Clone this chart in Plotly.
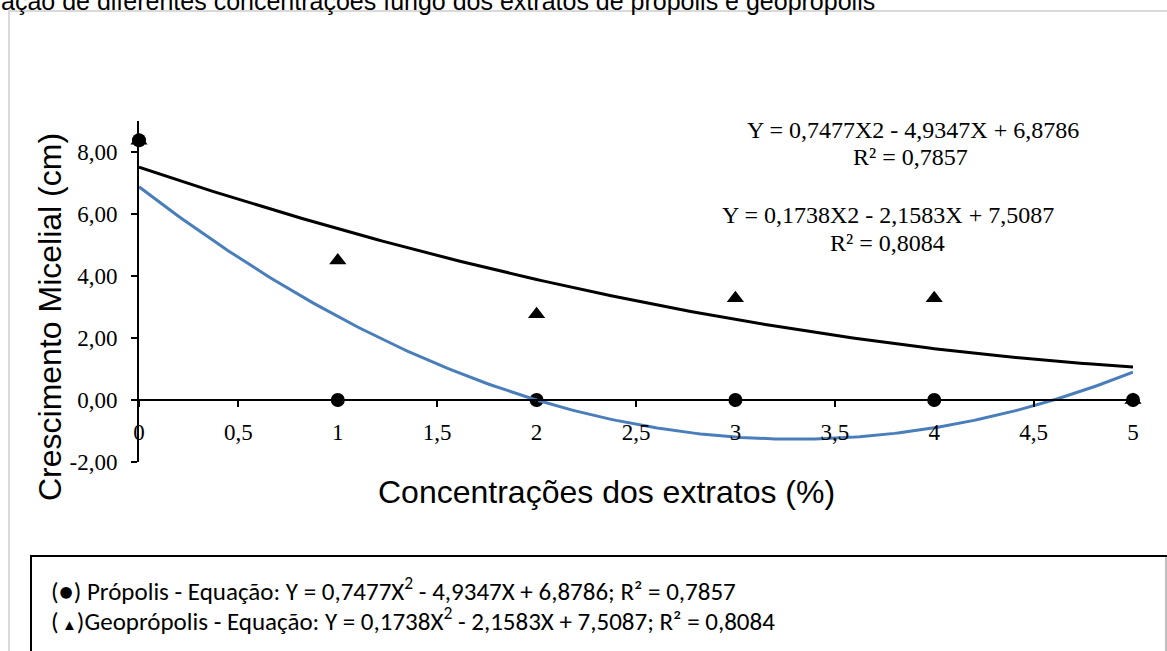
import numpy as np
import plotly.graph_objects as go

# ---------------- data ----------------
concentracoes = [0, 1, 2, 3, 4, 5]
propolis = [8.38, 0.0, 0.0, 0.0, 0.0, 0.0]
geopropolis = [8.36, 4.50, 2.77, 3.28, 3.28, 0.0]

# trendline coefficients (a, b, c) for y = a*x^2 + b*x + c, as printed on the chart
coef_propolis = [0.7477, -4.9347, 6.8786]
coef_geopropolis = [0.1738, -2.1583, 7.5087]

x_tickvals = [0, 0.5, 1, 1.5, 2, 2.5, 3, 3.5, 4, 4.5, 5]
x_ticklabels = ["0", "0,5", "1", "1,5", "2", "2,5", "3", "3,5", "4", "4,5", "5"]
y_tickvals = [-2, 0, 2, 4, 6, 8]
y_ticklabels = ["-2,00", "0,00", "2,00", "4,00", "6,00", "8,00"]

eq_propolis = "Y = 0,7477X2 - 4,9347X + 6,8786"
r2_propolis = "R² = 0,7857"
eq_geo = "Y = 0,1738X2 - 2,1583X + 7,5087"
r2_geo = "R² = 0,8084"

legend_line1 = "(●) Própolis - Equação: Y = 0,7477X<sup>2</sup> - 4,9347X + 6,8786; R² = 0,7857"
legend_line2 = "(<span style='font-size:15px'> ▲</span>)Geoprópolis - Equação: Y = 0,1738X<sup>2</sup> - 2,1583X + 7,5087; R² = 0,8084"
titulo = "ação de diferentes concentrações fungo dos extratos de própolis e geoprópolis"
x_title = "Concentrações dos extratos (%)"
y_title = "Crescimento Micelial (cm)"

# ---------------- layout geometry ----------------
FW, FH = 1167, 651
L, R, T, B = 139, 1133, 121, 462
W, H = R - L, B - T
YMIN, YMAX = -2, 9


def px(xp):
    return (xp - L) / W


def py(yp):
    return (B - yp) / H


xs = np.linspace(concentracoes[0], concentracoes[-1], 201)
fit_prop = np.polyval(coef_propolis, xs)
fit_geo = np.polyval(coef_geopropolis, xs)

SERIF = "Times New Roman, Liberation Serif, serif"
SANS = "Arial, Liberation Sans, sans-serif"
CAL = "Calibri, Carlito, Lato, sans-serif"

fig = go.Figure()

fig.add_trace(go.Scatter(
    x=concentracoes, y=geopropolis, mode="markers",
    marker=dict(symbol="triangle-up", size=15, color="black"),
    cliponaxis=False, showlegend=False))
fig.add_trace(go.Scatter(
    x=concentracoes, y=propolis, mode="markers",
    marker=dict(symbol="circle", size=14, color="black"),
    cliponaxis=False, showlegend=False))
fig.add_trace(go.Scatter(
    x=xs, y=fit_geo, mode="lines",
    line=dict(color="black", width=3), cliponaxis=False, showlegend=False))
fig.add_trace(go.Scatter(
    x=xs, y=fit_prop, mode="lines",
    line=dict(color="#4A7EBB", width=3), cliponaxis=False, showlegend=False))

fig.update_layout(
    width=FW, height=FH,
    margin=dict(l=L, r=FW - R, t=T, b=FH - B, pad=0),
    paper_bgcolor="white", plot_bgcolor="rgba(0,0,0,0)",
    showlegend=False,
    xaxis=dict(
        range=[0, 5], anchor="free", position=(0 - YMIN) / (YMAX - YMIN),
        showline=True, linecolor="black", linewidth=2,
        ticks="outside", ticklen=6, tickwidth=1.5, tickcolor="black",
        tickvals=x_tickvals, ticktext=x_ticklabels,
        tickfont=dict(family=SERIF, size=23, color="black"),
        ticklabelstandoff=5,
        showgrid=False, zeroline=False,
    ),
    yaxis=dict(
        range=[YMIN, YMAX],
        showline=True, linecolor="black", linewidth=2,
        ticks="outside", ticklen=6, tickwidth=1.5, tickcolor="black",
        tickvals=y_tickvals, ticktext=y_ticklabels,
        tickfont=dict(family=SERIF, size=23, color="black"),
        ticklabelstandoff=9,
        showgrid=False, zeroline=False,
    ),
)

annotations = [
    dict(text=titulo, x=px(-1), y=py(0.8), xanchor="left", yanchor="middle",
         font=dict(family=SANS, size=25, color="black")),
    dict(text=x_title, x=px(606), y=py(492), xanchor="center", yanchor="middle",
         font=dict(family=SANS, size=32, color="black")),
    dict(text=y_title, x=px(50), y=py(317), xanchor="center", yanchor="middle",
         textangle=-90, font=dict(family=SANS, size=32, color="black")),
    dict(text=eq_propolis, x=px(913), y=py(130), xanchor="center", yanchor="middle",
         font=dict(family=SERIF, size=24, color="black")),
    dict(text=r2_propolis, x=px(910), y=py(157), xanchor="center", yanchor="middle",
         font=dict(family=SERIF, size=24, color="black")),
    dict(text=eq_geo, x=px(888), y=py(215), xanchor="center", yanchor="middle",
         font=dict(family=SERIF, size=24, color="black")),
    dict(text=r2_geo, x=px(887), y=py(243), xanchor="center", yanchor="middle",
         font=dict(family=SERIF, size=24, color="black")),
    dict(text=legend_line1, x=px(49), y=py(589), xanchor="left", yanchor="middle",
         font=dict(family=CAL, size=25, color="black")),
    dict(text=legend_line2, x=px(49), y=py(619), xanchor="left", yanchor="middle",
         font=dict(family=CAL, size=25, color="black")),
]
for a in annotations:
    a.update(xref="paper", yref="paper", showarrow=False)
fig.update_layout(annotations=annotations)

shapes = [
    # grey chart-area border (left and top)
    dict(type="path", path=f"M {px(9)} {py(700)} L {px(9)} {py(11)} L {px(1200)} {py(11)}",
         line=dict(color="#D9D9D9", width=2)),
    # legend text box
    dict(type="rect", x0=px(31), y0=py(556), x1=px(1200), y1=py(720),
         line=dict(color="black", width=2)),
    dict(type="line", x0=px(1166), y0=py(557), x1=px(1166), y1=py(700),
         line=dict(color="#BFBFBF", width=2)),
]
for s in shapes:
    s.update(xref="paper", yref="paper", layer="below")
fig.update_layout(shapes=shapes)

fig.write_html("out.html")
